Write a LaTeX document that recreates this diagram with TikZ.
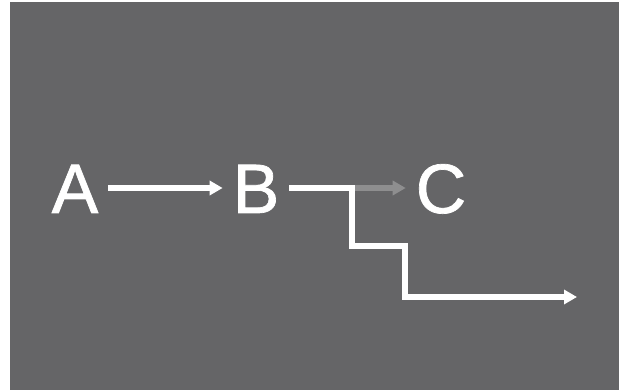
\documentclass[tikz,border=0pt]{standalone}
\usepackage{fontspec}
\setmainfont{Liberation Sans}
\newfontfamily\letterfont[FakeBold=1]{Liberation Sans}
\usetikzlibrary{arrows.meta}
\definecolor{slate}{HTML}{656567}
\definecolor{fadegray}{HTML}{8E8E8F}
\begin{document}
\begin{tikzpicture}[x=1pt,y=-1pt,
        letternode/.style={text=white, inner sep=0pt, outer sep=10pt, text height=50pt, text depth=0pt,
            font=\letterfont\fontsize{70}{70}\selectfont},
        whitearrow/.style={draw=white, line width=5.5pt, -{Triangle[length=13pt,width=14pt]}},
        ]
        % Background
        \fill[white] (0,0) rectangle (621,390);
        \fill[slate] (10,2) rectangle (619,390);

        % Nodes
        \node[letternode] (A) at (75,188) {A};
        \node[letternode] (B) at (256,188) {B};
        \node[letternode] (C) at (441,188) {C};

        \coordinate (s1) at (352,246);
        \coordinate (s2) at (405,297);
        \coordinate (end) at (577,297);

        % A to B
        \draw[whitearrow] (A) -- (B);

        % B to C, faded
        \draw[whitearrow, draw=fadegray] (B) -- (C);

        % B steps down
        \draw[whitearrow, line join=miter] (B.east) -| (s1) -| (s2) -- (end);

\end{tikzpicture}
\end{document}
